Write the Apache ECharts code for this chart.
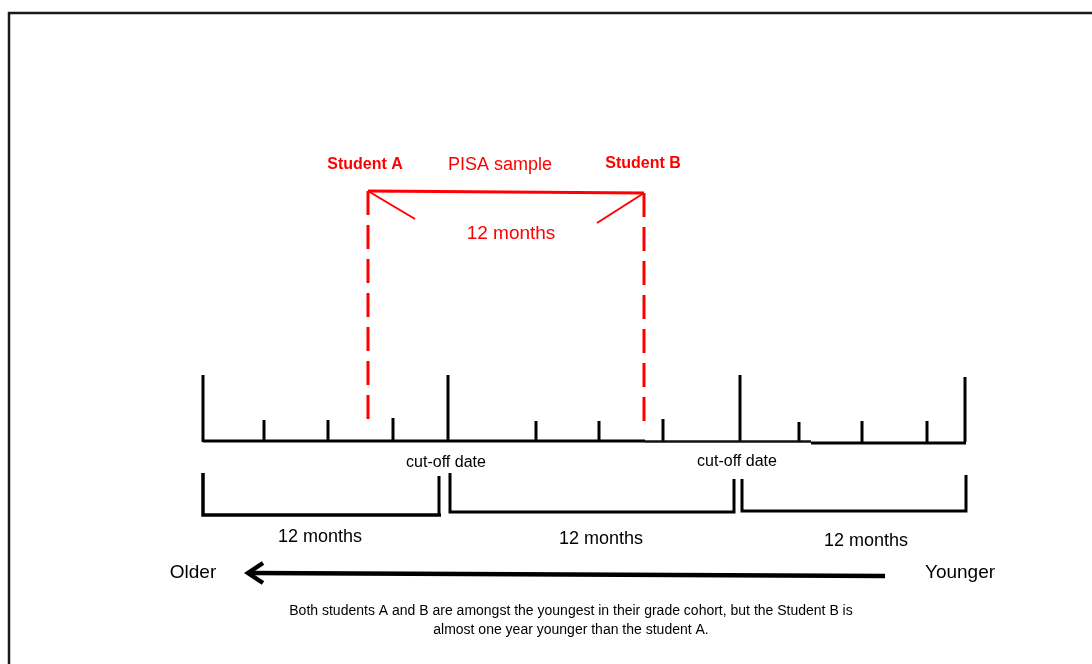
<!DOCTYPE html>
<html><head><meta charset="utf-8">
<script src="https://cdn.jsdelivr.net/npm/echarts@6/dist/echarts.min.js"></script>
<style>html,body{margin:0;padding:0;background:#fff}#c{width:1092px;height:664px}</style>
</head><body><div id="c"></div><script>
// Diagram coordinates (x along the age timeline, y down the page)
const frameLine = [[9,664],[9,13],[1092,13]];

const bigTickX = [203, 448, 740, 965];
const bigTickTop = [375, 375, 375, 377];
const smallTickX = [264, 328, 393, 536, 599, 663, 799, 862, 927];
const smallTickTop = [420, 420, 418, 421, 421, 419, 422, 421, 421];
const tickBottom = 442;
const baseline1 = [[203,441],[645,441]];
const baseline2 = [[645,441.5],[811,441.5]];
const baseline3 = [[811,443],[966,443]];

const bracket1 = [[203,473],[203,515],[441,515]];
const bracket1Right = [[439,476],[439,515]];
const bracket2 = [[450,473],[450,512],[734,512],[734,479]];
const bracket3 = [[742,479],[742,511],[966,511],[966,475]];

const pisaBracket = [[368,191],[644,193]];
const pisaDiagA = [[368,191],[415,219]];
const pisaDiagB = [[644,193],[597,223]];
const studentADash = [[368,191],[368,427]];
const studentBDash = [[644,193],[644,430]];

const arrowShaft = [[885,576],[252,573]];
const arrowHead = [[263,563],[248,573],[263,583]];

const redBoldLabels = [
  {text:'Student A', x:365, y:165},
  {text:'Student B', x:643, y:164}
];
const redLabels = [
  {text:'PISA sample', x:500, y:165}
];
const redMonthLabels = [
  {text:'12 months', x:511, y:234}
];
const cutoffLabels = [
  {text:'cut-off date', x:446, y:463},
  {text:'cut-off date', x:737, y:462}
];
const monthLabels = [
  {text:'12 months', x:320, y:537},
  {text:'12 months', x:601, y:539},
  {text:'12 months', x:866, y:541}
];
const directionLabels = [
  {text:'Older', x:193, y:573},
  {text:'Younger', x:960, y:573}
];
const noteLines = [
  {text:'Both students A and B are amongst the youngest in their grade cohort, but the Student B is', x:571, y:611},
  {text:'almost one year younger than the student A.', x:571, y:630}
];

const FONT = '"Liberation Sans", Arial, sans-serif';
const series = [];
function seg(points, color, width, type, z) {
  series.push({type:'line', data:points, symbol:'none', silent:true, animation:false,
    z: z || 2, lineStyle:{color:color, width:width, type:type || 'solid', cap:'butt', join:'miter'}});
}
function labels(list, color, size, weight) {
  series.push({type:'scatter', symbolSize:0, silent:true, animation:false, z:5,
    itemStyle:{opacity:1, color:color},
    data:list.map(l => ({value:[l.x, l.y], name:l.text})),
    label:{show:true, position:'inside', formatter:p => p.name, color:color, opacity:1,
      textBorderWidth:0, fontSize:size, fontWeight:weight, fontFamily:FONT,
      align:'center', verticalAlign:'middle'}});
}

seg(frameLine, '#1a1a1a', 2.5);
bigTickX.forEach((x,i) => seg([[x,bigTickTop[i]],[x,tickBottom]], '#000', 3));
smallTickX.forEach((x,i) => seg([[x,smallTickTop[i]],[x,tickBottom]], '#000', 3));
seg(baseline1, '#000', 3);
seg(baseline2, '#111', 2.5);
seg(baseline3, '#000', 3);
seg(bracket1, '#000', 3.5);
seg(bracket1Right, '#000', 3);
seg(bracket2, '#000', 3);
seg(bracket3, '#000', 3);
seg(pisaBracket, '#ff0000', 3, 'solid', 3);
seg(pisaDiagA, '#ff0000', 2, 'solid', 3);
seg(pisaDiagB, '#ff0000', 2, 'solid', 3);
seg(studentADash, '#ff0000', 3, [24,10], 3);
seg(studentBDash, '#ff0000', 3, [24,10], 3);
seg(arrowShaft, '#000', 4.5);
seg(arrowHead, '#000', 4.5);

labels(redBoldLabels, '#ff0000', 16, 'bold');
labels(redLabels, '#ff0000', 18, 'normal');
labels(redMonthLabels, '#ff0000', 19, 'normal');
labels(cutoffLabels, '#000', 16, 'normal');
labels(monthLabels, '#000', 18, 'normal');
labels(directionLabels, '#000', 19, 'normal');
labels(noteLines, '#000', 14, 'normal');

const chart = echarts.init(document.getElementById('c'), null, {renderer:'canvas'});
chart.setOption({
  animation:false,
  backgroundColor:'#ffffff',
  grid:{left:0, right:0, top:0, bottom:0},
  xAxis:{type:'value', min:0, max:1092, show:false},
  yAxis:{type:'value', min:0, max:664, inverse:true, show:false},
  series:series
});
</script></body></html>
